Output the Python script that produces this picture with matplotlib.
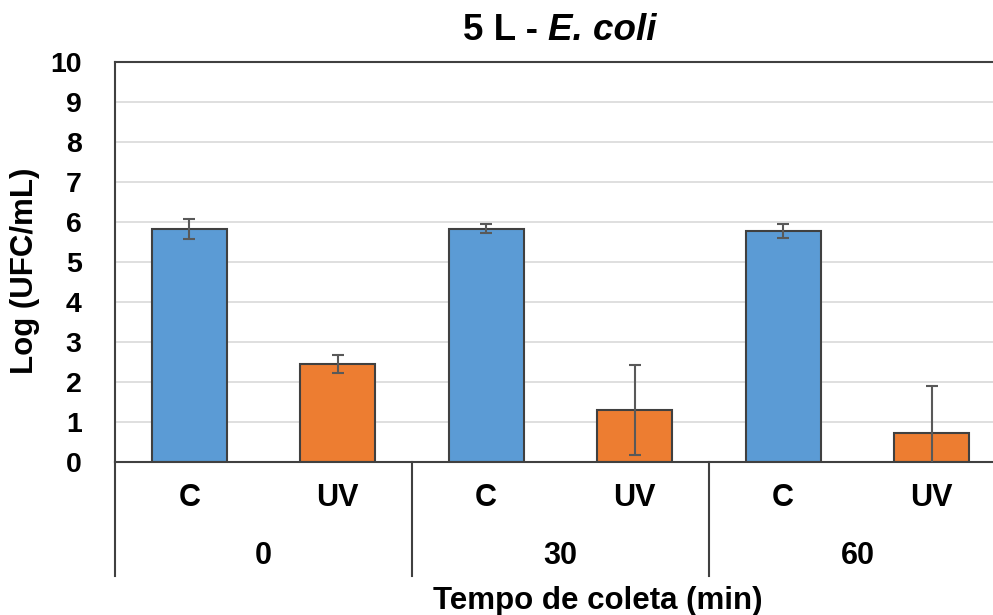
import matplotlib.pyplot as plt
from matplotlib.transforms import blended_transform_factory

plt.rcParams['font.family'] = ['Liberation Sans', 'DejaVu Sans']
plt.rcParams['font.weight'] = 'bold'

# data
groups = ["0", "30", "60"]
treatments = ["C", "UV"]
means = [5.81, 2.44, 5.83, 1.29, 5.77, 0.71]
errors = [0.25, 0.22, 0.11, 1.12, 0.18, 1.19]
bar_colors = ["#5B9BD5", "#ED7D31"] * 3
sub_labels = treatments * 3
yticks = list(range(0, 11))

fig = plt.figure(figsize=(9.93, 6.15), dpi=100)
W, H = 993, 615
ax = fig.add_axes([115 / W, (H - 461.5) / H, 891 / W, 399.5 / H])

x = list(range(len(means)))
ax.bar(x, means, width=0.505, color=bar_colors, edgecolor="#404040",
       linewidth=1.5, zorder=2)
ax.errorbar(x, means, yerr=errors, fmt="none", ecolor="#595959",
            elinewidth=1.5, capsize=4.3, capthick=1.5, zorder=3)

ax.set_xlim(-0.5, 5.5)
ax.set_ylim(0, 10)
ax.set_yticks(yticks)
ax.yaxis.grid(True, color="#D9D9D9", linewidth=1.2, zorder=0)
ax.set_axisbelow(True)
ax.tick_params(axis="y", length=0, pad=24, labelsize=20.5)
ax.set_xticks([])
for s in ["left", "bottom", "top"]:
    ax.spines[s].set_color("#404040")
    ax.spines[s].set_linewidth(1.5)
ax.spines["right"].set_visible(False)

# two-level category axis
trans = blended_transform_factory(ax.transData, ax.transAxes)
px = 1 / 399.5  # one pixel in axes units
for xi, lab in zip(x, sub_labels):
    ax.text(xi, -36 * px, lab, transform=trans, ha="center", va="center",
            fontsize=22, fontweight="bold")
for gi, g in enumerate(groups):
    ax.text(gi * 2 + 0.5, -95 * px, g, transform=trans, ha="center",
            va="center", fontsize=22, fontweight="bold")
for b in [-0.5, 1.5, 3.5, 5.5]:
    ax.plot([b, b], [0, -114 * px], transform=trans, color="#404040",
            linewidth=1.5, clip_on=False)

fig.text(598 / W, 1 - 601 / H, "Tempo de coleta (min)", ha="center",
         va="center", fontsize=22.5, fontweight="bold")
fig.text(25 / W, 1 - 271 / H, "Log (UFC/mL)", ha="center", va="center",
         rotation=90, fontsize=22.5, fontweight="bold")

# title: plain part + italic species name
fig.text(548 / W, 1 - 40 / H, "5 L - ", ha="right", va="baseline",
         fontsize=26.5, fontweight="bold")
fig.text(548 / W, 1 - 40 / H, "E. coli", ha="left", va="baseline",
         fontsize=26.5, fontweight="bold", fontstyle="italic")

fig.savefig("out.png", dpi=100)
